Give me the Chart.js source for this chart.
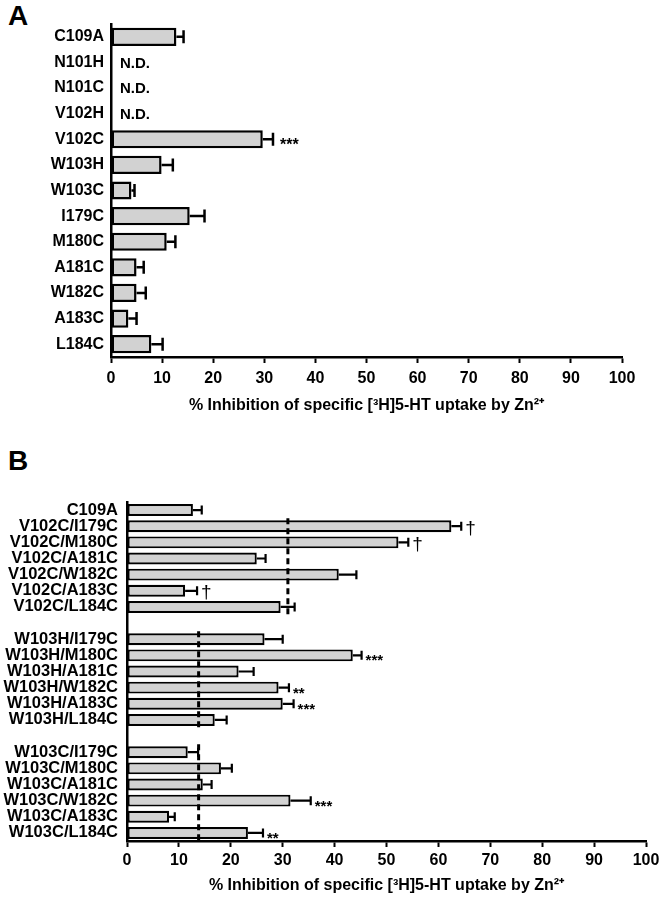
<!DOCTYPE html>
<html><head><meta charset="utf-8">
<script src="https://cdn.jsdelivr.net/npm/chart.js@4/dist/chart.umd.min.js"></script>
<style>
html,body{margin:0;padding:0;background:#fff;width:659px;height:899px;overflow:hidden;}
.wrap{position:absolute;left:0;width:659px;}
#wa{top:0;height:440px}
#wb{top:440px;height:459px}
.panel{position:absolute;font:bold 28px "Liberation Sans",Arial,sans-serif;color:#000;line-height:32px;}
</style></head><body>
<div class="panel" style="left:8px;top:0px">A</div>
<div class="panel" style="left:8px;top:445px">B</div>
<div id="wa" class="wrap"><canvas id="ca" width="659" height="440"></canvas></div>
<div id="wb" class="wrap"><canvas id="cb" width="659" height="459"></canvas></div>
<script>
// ---------- Panel A data ----------
const labelsA = ['C109A','N101H','N101C','V102H','V102C','W103H','W103C','I179C','M180C','A181C','W182C','A183C','L184C'];
const valuesA = [12.8, null, null, null, 29.7, 9.9, 4.0, 15.4, 10.9, 5.0, 5.0, 3.4, 7.9];
const errorsA = [1.4, null, null, null, 2.0, 2.2, 0.6, 2.9, 1.7, 1.4, 1.8, 1.6, 2.2];
const notesA  = ['', 'N.D.', 'N.D.', 'N.D.', '***', '', '', '', '', '', '', '', ''];

// ---------- Panel B data ----------
const labelsB = ['C109A','V102C/I179C','V102C/M180C','V102C/A181C','V102C/W182C','V102C/A183C','V102C/L184C','',
  'W103H/I179C','W103H/M180C','W103H/A181C','W103H/W182C','W103H/A183C','W103H/L184C','',
  'W103C/I179C','W103C/M180C','W103C/A181C','W103C/W182C','W103C/A183C','W103C/L184C'];
const valuesB = [12.7, 62.5, 52.3, 25.0, 40.8, 11.2, 29.6, null,
  26.5, 43.5, 21.5, 29.2, 30.0, 16.9, null,
  11.7, 18.1, 14.6, 31.5, 8.1, 23.3];
const errorsB = [1.7, 1.9, 1.9, 1.7, 3.4, 2.3, 2.7, null,
  3.5, 1.7, 2.9, 2.0, 2.1, 2.3, null,
  2.0, 2.1, 1.7, 3.9, 1.1, 2.9];
const notesB = ['', '†', '†', '', '', '†', '', '',
  '', '***', '', '**', '***', '', '',
  '', '', '', '***', '', '**'];
// reference (dashed) lines: value and first/last row index of each group
const refValuesB = [31.0, 13.8, 13.8];
const refFromB = [1, 8, 15];
const refToB = [6, 13, 20];

const xTicks = [0,10,20,30,40,50,60,70,80,90,100];
const axisTitle = '% Inhibition of specific [\u00B3H]5-HT uptake by Zn\u00B2\u207A';

const FAM = '"Liberation Sans", Arial, Helvetica, sans-serif';

function extrasPlugin(values, errors, notes, cfg) {
  return {
    id: 'extras',
    afterDatasetsDraw(chart) {
      const ctx = chart.ctx, xs = chart.scales.x, ys = chart.scales.y;
      ctx.save();
      ctx.strokeStyle = '#000';
      ctx.fillStyle = '#000';
      if (cfg.refValues) {
        const half = Math.abs(ys.getPixelForValue(1) - ys.getPixelForValue(0)) / 2;
        cfg.refValues.forEach((rv, k) => {
          const px = xs.getPixelForValue(rv);
          const y0 = ys.getPixelForValue(cfg.refFrom[k]) - half;
          const y1 = ys.getPixelForValue(cfg.refTo[k]) + half;
          ctx.setLineDash(cfg.dash);
          ctx.lineWidth = cfg.dashWidth;
          ctx.beginPath(); ctx.moveTo(px, y0); ctx.lineTo(px, y1); ctx.stroke();
        });
        ctx.setLineDash([]);
      }
      values.forEach((v, i) => {
        const cy = ys.getPixelForValue(i);
        let endX = xs.getPixelForValue(0);
        if (v != null && errors[i] != null) {
          const x0 = xs.getPixelForValue(v), x1 = xs.getPixelForValue(v + errors[i]);
          endX = x1;
          ctx.lineWidth = cfg.errWidth;
          ctx.beginPath();
          ctx.moveTo(x0, cy); ctx.lineTo(x1, cy);
          ctx.moveTo(x1, cy - cfg.cap / 2); ctx.lineTo(x1, cy + cfg.cap / 2);
          ctx.stroke();
        }
        const n = notes[i];
        if (!n) return;
        ctx.textAlign = 'left';
        ctx.textBaseline = 'alphabetic';
        if (n === 'N.D.') {
          ctx.font = 'bold ' + cfg.ndSize + 'px ' + FAM;
          ctx.fillText(n, xs.getPixelForValue(0) + 9, cy + cfg.ndSize * 0.36);
        } else if (n === '†') {
          ctx.font = cfg.dagSize + 'px ' + FAM;
          ctx.fillText(n, endX + cfg.gap, cy + cfg.dagSize * 0.4);
        } else {
          ctx.font = 'bold ' + cfg.astSize + 'px ' + FAM;
          ctx.fillText(n, endX + cfg.gap, cy + cfg.astSize * 0.6 + 1);
        }
      });
      ctx.restore();
    }
  };
}

function makeChart(id, labels, values, errors, notes, o) {
  return new Chart(document.getElementById(id), {
    type: 'bar',
    data: {
      labels: labels,
      datasets: [{
        data: values,
        backgroundColor: '#d2d2d2',
        borderColor: '#000',
        borderWidth: o.barBorder,
        borderSkipped: false,
        categoryPercentage: 1,
        barPercentage: o.barPct
      }]
    },
    options: {
      indexAxis: 'y',
      responsive: false,
      animation: false,
      devicePixelRatio: 1,
      layout: { padding: { top: o.padTop, right: o.padRight, left: 0, bottom: 0 } },
      plugins: { legend: { display: false }, tooltip: { enabled: false } },
      scales: {
        y: {
          type: 'category',
          afterFit(s) { s.width = o.yWidth; },
          grid: { display: true, drawOnChartArea: false, drawTicks: false },
          border: { display: true, color: '#000', width: o.axisWidth },
          ticks: { color: '#000', autoSkip: false, padding: o.yPad, font: { family: FAM, size: o.yFont, weight: 'bold' } }
        },
        x: {
          type: 'linear', min: 0, max: 100,
          afterFit(s) { s.height = o.xHeight; s.paddingRight = 0; },
          afterBuildTicks(s) { s.ticks = xTicks.map(v => ({ value: v })); },
          grid: { display: true, drawOnChartArea: false, drawTicks: true, tickLength: 6, tickColor: '#000', tickWidth: 2, color: '#000' },
          border: { display: true, color: '#000', width: o.axisWidth },
          ticks: { color: '#000', maxRotation: 0, autoSkip: false, padding: o.xPad, font: { family: FAM, size: o.xFont, weight: 'bold' } },
          title: { display: true, text: axisTitle, color: '#000', font: { family: FAM, size: o.titleFont, weight: 'bold' }, padding: { top: 0, bottom: o.titlePadBottom } }
        }
      }
    },
    plugins: [extrasPlugin(values, errors, notes, o)]
  });
}

makeChart('ca', labelsA, valuesA, errorsA, notesA, {
  barBorder: 2.5, barPct: 0.71, padTop: 24, padRight: 37, yWidth: 111, axisWidth: 2.5,
  yPad: 7, yFont: 16, xHeight: 83, xPad: 6, xFont: 16, titleFont: 16, titlePadBottom: 25,
  errWidth: 2.5, cap: 13, gap: 7, ndSize: 15, dagSize: 19, astSize: 16
});

makeChart('cb', labelsB, valuesB, errorsB, notesB, {
  barBorder: 2.2, barPct: 0.74, padTop: 62, padRight: 13, yWidth: 127, axisWidth: 2.5,
  yPad: 9, yFont: 16.5, xHeight: 58, xPad: 4, xFont: 16, titleFont: 16, titlePadBottom: 4,
  errWidth: 2.2, cap: 9, gap: 4, ndSize: 15, dagSize: 19, astSize: 15,
  refValues: refValuesB, refFrom: refFromB, refTo: refToB, dash: [6, 4], dashWidth: 3
});
</script>
</body></html>
